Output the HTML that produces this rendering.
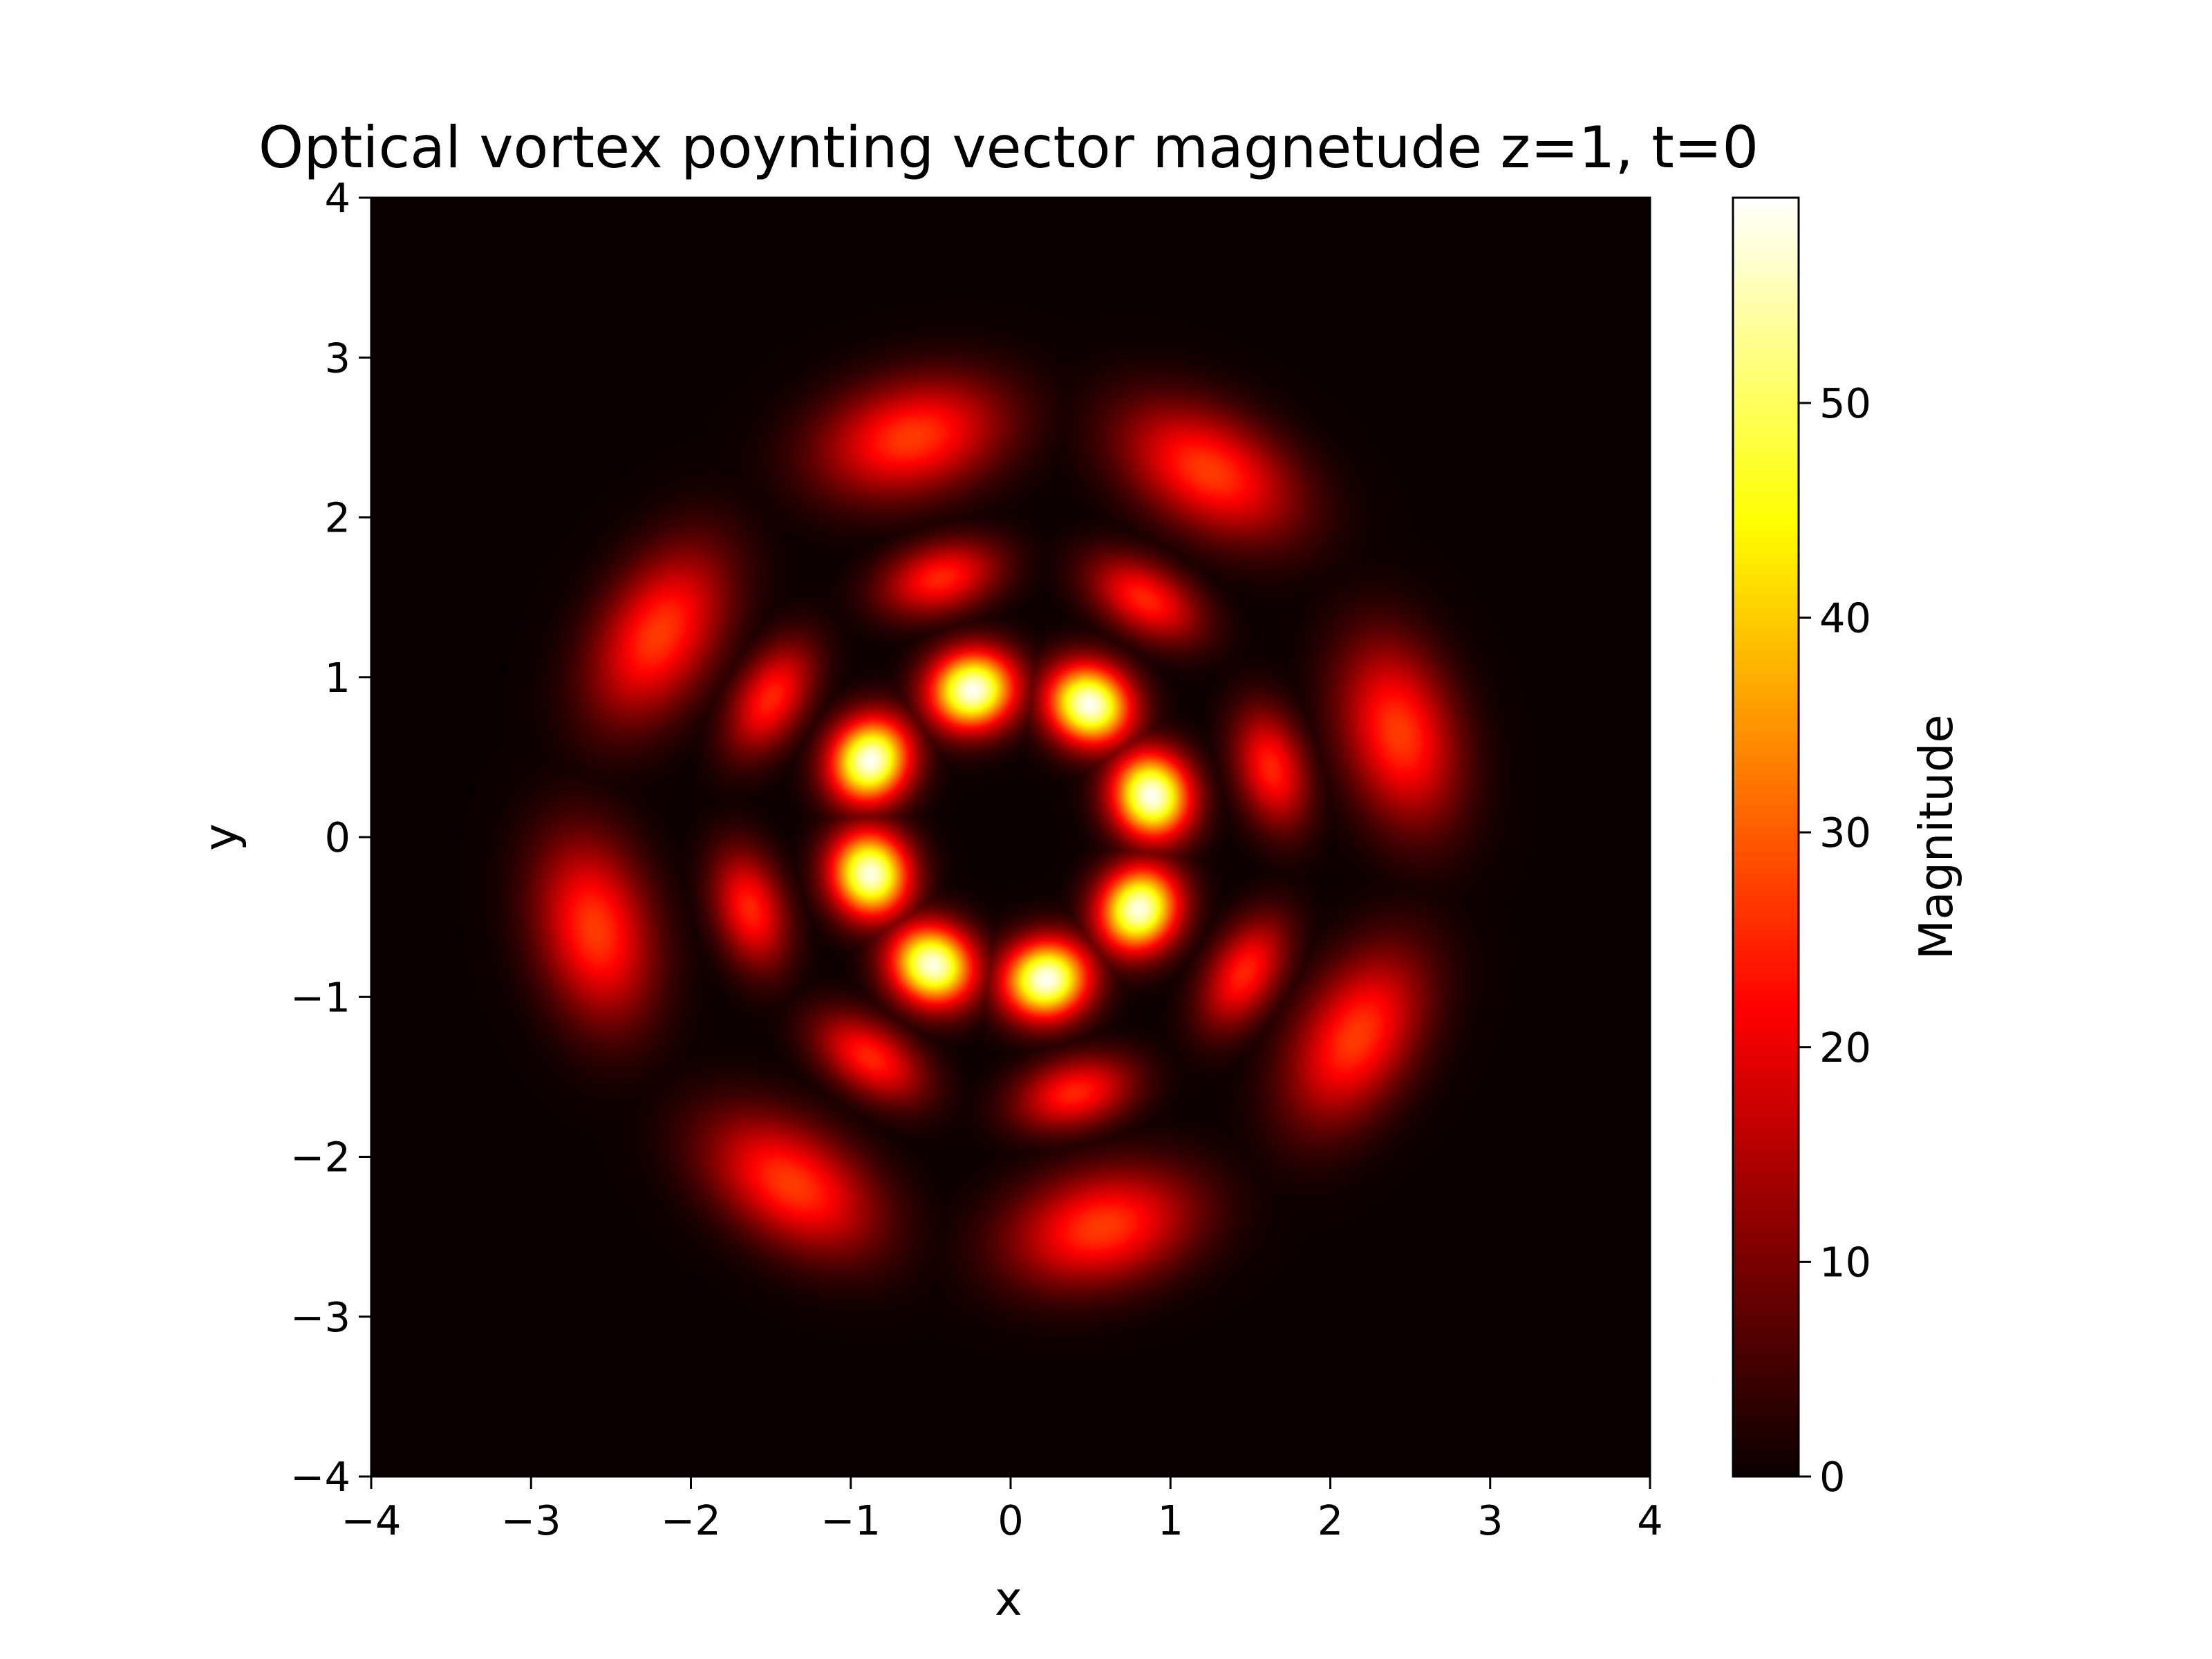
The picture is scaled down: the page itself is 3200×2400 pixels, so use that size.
<!DOCTYPE html>
<html><head><meta charset="utf-8"><style>
body{margin:0;background:#fff;}
#wrap{position:relative;width:3200px;height:2400px;font-family:"DejaVu Sans","Liberation Sans",sans-serif;}
canvas{position:absolute;}
svg{position:absolute;left:0;top:0;}
</style></head><body>
<div id="wrap">
<canvas id="hm" width="462" height="462" style="left:537px;top:286px;width:1850px;height:1850px;"></canvas>
<canvas id="cb" width="1" height="512" style="left:2507px;top:286px;width:95px;height:1850px;"></canvas>
<svg id="ax" width="3200" height="2400"></svg>
</div>
<script>
// lobes: x, y (data units), amplitude
const innerX=[-0.24,0.49,0.88,0.80,0.22,-0.49,-0.88,-0.88];
const innerY=[0.92,0.83,0.26,-0.45,-0.89,-0.80,-0.23,0.48];
const innerA=[59,59,59,58,59,58,58,59];
const midX=[-0.44,0.84,1.63,1.46,0.40,-0.88,-1.63,-1.50];
const midY=[1.62,1.49,0.43,-0.85,-1.60,-1.38,-0.45,0.87];
const midA=[25,25,25,25,25,25,25,25];
const outX=[-0.62,1.24,2.43,2.16,0.57,-1.37,-2.60,-2.20];
const outY=[2.50,2.29,0.65,-1.25,-2.44,-2.17,-0.58,1.27];
const outA=[27,27,27,27,27,27,27,27];
const xTicks=[-4,-3,-2,-1,0,1,2,3,4];
const yTicks=[-4,-3,-2,-1,0,1,2,3,4];
const cbTicks=[0,10,20,30,40,50];
const vmax=59.56;

const L=537,T=286,S=1850;
const xs=v=>L+(v+4)/8*S, ys=v=>T+(4-v)/8*S;
const cbY=v=>2136-v/vmax*1850;

function hot(t){t=Math.max(0,Math.min(1,t));
 const r=Math.min(1,0.0416+t/0.365*(1-0.0416)), g=Math.max(0,Math.min(1,(t-0.365)/0.381)), b=Math.max(0,Math.min(1,(t-0.746)/0.254));
 return [r*255,g*255,b*255];}

const lobes=[];
function add(X,Y,A,sr,st){for(let i=0;i<X.length;i++)lobes.push([X[i],Y[i],A[i],sr,st]);}
add(innerX,innerY,innerA,0.17,0.19);
add(midX,midY,midA,0.15,0.26);
add(outX,outY,outA,0.24,0.40);

const c=document.getElementById('hm'),ctx=c.getContext('2d'),N=c.width;
const img=ctx.createImageData(N,N);
for(let j=0;j<N;j++)for(let i=0;i<N;i++){
 const x=-4+(i+0.5)/N*8,y=4-(j+0.5)/N*8;let v=0;
 for(const l of lobes){const r=Math.hypot(l[0],l[1]),ux=l[0]/r,uy=l[1]/r;
  const dx=x-l[0],dy=y-l[1],dr=dx*ux+dy*uy,dt=-dx*uy+dy*ux;
  const g=l[2]*Math.exp(-(dr*dr)/(2*l[3]*l[3])-(dt*dt)/(2*l[4]*l[4]));if(g>v)v=g;}
 const col=hot(v/vmax),k=(j*N+i)*4;img.data[k]=col[0];img.data[k+1]=col[1];img.data[k+2]=col[2];img.data[k+3]=255;}
ctx.putImageData(img,0,0);

const cb=document.getElementById('cb'),cctx=cb.getContext('2d');
for(let j=0;j<512;j++){const col=hot(1-j/511);cctx.fillStyle=`rgb(${col[0]|0},${col[1]|0},${col[2]|0})`;cctx.fillRect(0,j,1,1);}

const svg=document.getElementById('ax'),NS='http://www.w3.org/2000/svg';
function mk(t,a,txt){const e=document.createElementNS(NS,t);for(const k in a)e.setAttribute(k,a[k]);if(txt!==undefined)e.textContent=txt;svg.appendChild(e);return e;}
let e=mk('rect',{x:L,y:T,width:S,height:S,fill:'none',stroke:'#000','stroke-width':3});

e=mk('rect',{x:2507,y:286,width:95,height:1850,fill:'none',stroke:'#000','stroke-width':3});

const lab=v=>v<0?'\u2212'+(-v):String(v);
for(const v of xTicks){mk('line',{x1:xs(v),x2:xs(v),y1:T+S,y2:T+S+18,stroke:'#000','stroke-width':3});
 e=mk('text',{x:xs(v),y:T+S+84,'font-size':59,'text-anchor':'middle'},lab(v));
 }
for(const v of yTicks){mk('line',{x1:L-18,x2:L,y1:ys(v),y2:ys(v),stroke:'#000','stroke-width':3});
 e=mk('text',{x:L-30,y:ys(v)+21,'font-size':59,'text-anchor':'end'},lab(v));
 }
for(const v of cbTicks){mk('line',{x1:2602,x2:2620,y1:cbY(v),y2:cbY(v),stroke:'#000','stroke-width':3});
 e=mk('text',{x:2632,y:cbY(v)+21,'font-size':59},String(v));
 }
e=mk('text',{x:1459,y:242,'font-size':83,'text-anchor':'middle'},'Optical vortex poynting vector magnetude z=1, t=0');

e=mk('text',{x:1459,y:2336,'font-size':67,'text-anchor':'middle'},'x');

e=mk('text',{x:0,y:0,'font-size':67,'text-anchor':'middle',transform:'translate(342,1211) rotate(-90)'},'y');

e=mk('text',{x:0,y:0,'font-size':67,'text-anchor':'middle',transform:'translate(2824,1211) rotate(-90)'},'Magnitude');

</script>
</body></html>
